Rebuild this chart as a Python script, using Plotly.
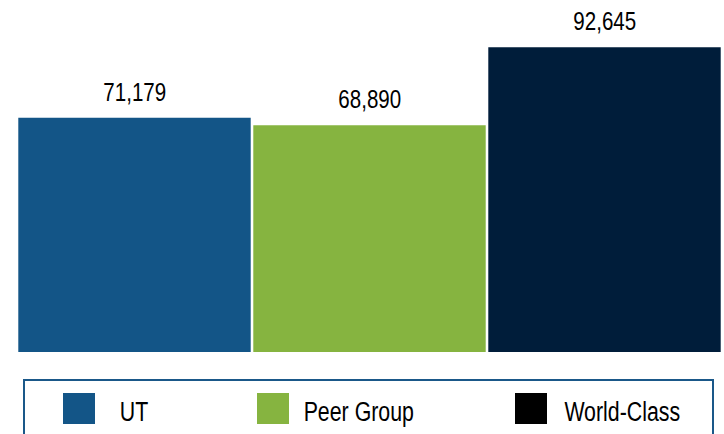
import plotly.graph_objects as go

# Data
categories = ["UT", "Peer Group", "World-Class"]
values = [71179, 68890, 92645]
bar_colors = ["#135587", "#86B440", "#001D3A"]
legend_swatch_colors = ["#135587", "#86B440", "#000000"]

W, H = 724, 434
ML, MR, MT, MB = 17, 2, 23, 82
plot_w = W - ML - MR
plot_h = H - MT - MB
FONT = "Liberation Sans, Arial, sans-serif"
CONDENSE = 0.79  # horizontal squeeze applied to text for a narrow look


def px_x(px):
    return (px - ML) / plot_w


def px_y(py):
    return (H - MB - py) / plot_h


fig = go.Figure()
fig.add_trace(go.Bar(
    x=categories,
    y=values,
    marker=dict(color=bar_colors, line=dict(width=0)),
    showlegend=False,
    hoverinfo="x+y",
))

annotations = []
for cat, val in zip(categories, values):
    annotations.append(dict(
        x=cat, y=val, xref="x", yref="y",
        text=f"{val:,}",
        showarrow=False,
        yanchor="bottom",
        yshift=9,
        font=dict(family=FONT, size=26, color="#000000"),
    ))

# Legend box drawn below the plot
shapes = [dict(
    type="rect", xref="paper", yref="paper",
    x0=px_x(24), x1=px_x(713), y0=px_y(380), y1=px_y(460),
    line=dict(color="#1A5889", width=2),
    fillcolor="rgba(0,0,0,0)",
    layer="above",
)]

swatch_left = [63, 257, 515]
text_center = [134, 359, 622]
for cat, col, sx, tx in zip(categories, legend_swatch_colors, swatch_left, text_center):
    shapes.append(dict(
        type="rect", xref="paper", yref="paper",
        x0=px_x(sx), x1=px_x(sx + 32), y0=px_y(424), y1=px_y(393),
        line=dict(width=0), fillcolor=col,
    ))
    annotations.append(dict(
        x=px_x(tx), y=px_y(412), xref="paper", yref="paper",
        text=cat, showarrow=False,
        xanchor="center", yanchor="middle",
        font=dict(family=FONT, size=27, color="#000000"),
    ))

fig.update_layout(
    width=W, height=H,
    margin=dict(l=ML, r=MR, t=MT, b=MB),
    paper_bgcolor="#FFFFFF",
    plot_bgcolor="#FFFFFF",
    bargap=0.011,
    xaxis=dict(visible=False),
    yaxis=dict(visible=False, range=[0, 100000]),
    shapes=shapes,
    annotations=annotations,
)

# Narrow the annotation text around its centre (SVG textLength)
squeeze_js = """
var gd = document.getElementById('{plot_id}');
gd.querySelectorAll('text.annotation-text').forEach(function (t) {
    var w = t.getComputedTextLength();
    t.setAttribute('textLength', (w * %s).toFixed(2));
    t.setAttribute('lengthAdjust', 'spacingAndGlyphs');
});
""" % CONDENSE

fig.write_html("out.html", post_script=squeeze_js)
